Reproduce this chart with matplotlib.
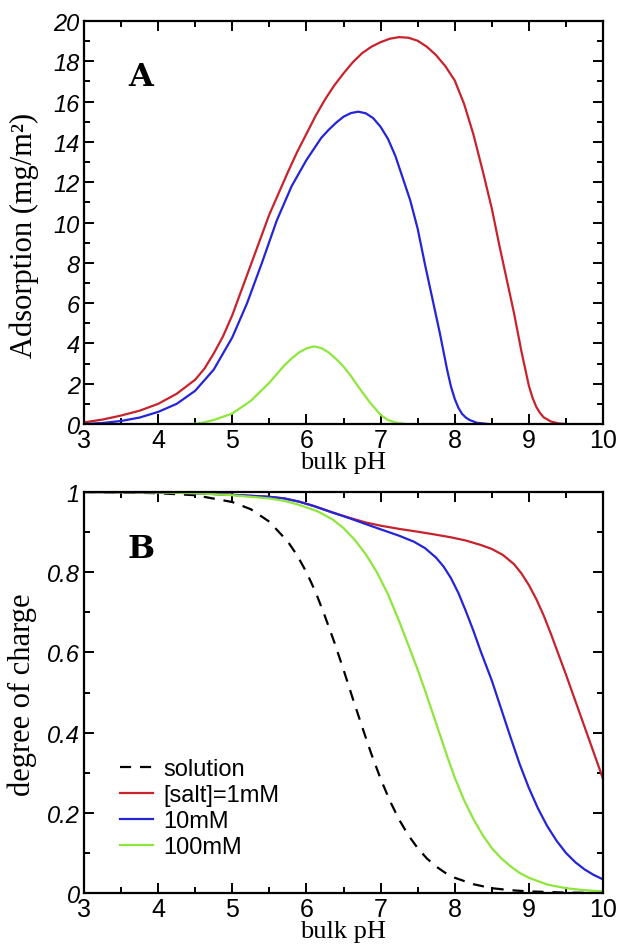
import matplotlib
matplotlib.use("Agg")
import matplotlib.pyplot as plt
from matplotlib.ticker import MultipleLocator

plt.rcParams['font.family'] = ['Liberation Sans', 'DejaVu Sans']

# ---- panel A: adsorption vs bulk pH ----
ph_1mM = [3.0, 3.25, 3.5, 3.75, 4.0, 4.25, 4.5, 4.625, 4.75, 4.875, 5.0, 5.25, 5.5, 5.75,
          5.875, 6.0, 6.125, 6.25, 6.375, 6.5, 6.625, 6.75, 6.875, 7.0, 7.125, 7.25, 7.375,
          7.5, 7.625, 7.75, 7.875, 8.0, 8.125, 8.25, 8.375, 8.5, 8.6, 8.7, 8.8, 8.9,
          9.0, 9.05, 9.1, 9.15, 9.2, 9.3, 9.4, 9.5]
ads_1mM = [0.08, 0.22, 0.42, 0.66, 1.0, 1.5, 2.2, 2.75, 3.5, 4.35, 5.4, 7.9, 10.4, 12.5,
           13.5, 14.4, 15.3, 16.1, 16.8, 17.4, 17.95, 18.4, 18.72, 18.95, 19.12, 19.2, 19.17,
           19.02, 18.72, 18.3, 17.75, 17.05, 15.9, 14.4, 12.6, 10.7, 8.9, 7.2, 5.5, 3.6,
           1.9, 1.3, 0.85, 0.55, 0.33, 0.12, 0.03, 0.0]

ph_10mM = [3.0, 3.25, 3.5, 3.75, 4.0, 4.25, 4.5, 4.75, 5.0, 5.2, 5.4, 5.6, 5.8, 6.0,
           6.2, 6.3, 6.4, 6.5, 6.6, 6.7, 6.8, 6.9, 7.0, 7.1, 7.2, 7.3, 7.4, 7.5, 7.6,
           7.7, 7.8, 7.9, 7.95, 8.0, 8.05, 8.1, 8.15, 8.2, 8.3, 8.45]
ads_10mM = [0.0, 0.05, 0.15, 0.32, 0.6, 1.0, 1.65, 2.7, 4.3, 6.0, 8.0, 10.1, 11.8, 13.1,
            14.2, 14.6, 14.95, 15.25, 15.43, 15.5, 15.42, 15.18, 14.75, 14.15, 13.3, 12.2,
            11.1, 9.7, 7.9, 6.2, 4.5, 2.65, 1.85, 1.25, 0.8, 0.5, 0.32, 0.2, 0.06, 0.0]

ph_100mM = [4.45, 4.6, 4.75, 5.0, 5.25, 5.5, 5.7, 5.8, 5.9, 6.0, 6.1, 6.2, 6.3, 6.4,
            6.5, 6.6, 6.7, 6.85, 7.0, 7.1, 7.2, 7.35]
ads_100mM = [0.0, 0.06, 0.2, 0.52, 1.15, 2.05, 2.9, 3.25, 3.55, 3.75, 3.85, 3.77, 3.55, 3.23,
             2.85, 2.38, 1.85, 1.1, 0.45, 0.2, 0.07, 0.0]

# ---- panel B: degree of charge vs bulk pH ----
ph_sol = [3.0, 3.5, 4.0, 4.5, 5.0, 5.25, 5.5, 5.75, 5.875, 6.0, 6.125, 6.25, 6.375,
          6.5, 6.625, 6.75, 6.875, 7.0, 7.125, 7.25, 7.375, 7.5, 7.625, 7.75, 7.875,
          8.0, 8.25, 8.5, 8.75, 9.0, 9.5, 10.0]
chg_sol = [1.0, 0.999, 0.997, 0.992, 0.975, 0.957, 0.926, 0.876, 0.842, 0.80, 0.75, 0.69, 0.626,
           0.557, 0.485, 0.415, 0.347, 0.285, 0.23, 0.183, 0.144, 0.112, 0.086, 0.066, 0.05,
           0.038, 0.022, 0.012, 0.007, 0.004, 0.001, 0.0]

ph_b1 = [3.0, 4.0, 4.5, 5.0, 5.5, 5.7, 5.9, 6.1, 6.35, 6.575, 6.8, 7.0, 7.25, 7.5,
         7.7, 7.95, 8.15, 8.35, 8.5, 8.65, 8.8, 8.9, 9.0, 9.1, 9.2, 9.3, 9.4, 9.5,
         9.625, 9.75, 9.875, 10.0]
chg_1mM = [1.0, 0.999, 0.997, 0.993, 0.988, 0.984, 0.976, 0.965, 0.949, 0.936, 0.924, 0.916, 0.908, 0.901,
           0.895, 0.887, 0.879, 0.868, 0.858, 0.843, 0.82, 0.797, 0.768, 0.733, 0.692, 0.645, 0.595, 0.545,
           0.48, 0.415, 0.35, 0.285]

ph_b10 = [3.0, 4.0, 4.5, 5.0, 5.5, 5.7, 5.9, 6.1, 6.35, 6.575, 6.8, 7.0, 7.25, 7.45,
          7.6, 7.75, 7.85, 7.95, 8.05, 8.15, 8.25, 8.35, 8.5, 8.625, 8.75, 8.875, 9.0,
          9.125, 9.25, 9.375, 9.5, 9.625, 9.75, 9.875, 10.0]
chg_10mM = [1.0, 0.999, 0.997, 0.993, 0.988, 0.984, 0.976, 0.965, 0.949, 0.935, 0.920, 0.907, 0.891, 0.876,
            0.86, 0.836, 0.814, 0.785, 0.748, 0.703, 0.655, 0.603, 0.53, 0.46, 0.39, 0.322, 0.262,
            0.21, 0.166, 0.13, 0.10, 0.077, 0.059, 0.045, 0.034]

ph_b100 = [3.0, 4.0, 4.5, 5.0, 5.5, 5.7, 5.9, 6.15, 6.35, 6.5, 6.65, 6.8, 6.95, 7.1,
           7.25, 7.4, 7.5, 7.6, 7.7, 7.8, 7.9, 8.0, 8.125, 8.25, 8.375, 8.5, 8.625,
           8.75, 8.875, 9.0, 9.25, 9.5, 9.75, 10.0]
chg_100mM = [1.0, 0.999, 0.997, 0.992, 0.984, 0.978, 0.968, 0.952, 0.932, 0.91, 0.881, 0.845, 0.80, 0.745,
             0.678, 0.606, 0.557, 0.505, 0.45, 0.395, 0.34, 0.288, 0.232, 0.185, 0.145, 0.112, 0.087,
             0.067, 0.05, 0.038, 0.021, 0.012, 0.007, 0.004]

legend_labels = ['solution', '[salt]=1mM', '10mM', '100mM']
ticks_a = [0, 2, 4, 6, 8, 10, 12, 14, 16, 18, 20]
ticks_b = [0, 0.2, 0.4, 0.6, 0.8, 1]
ticklabels_b = ['0', '0.2', '0.4', '0.6', '0.8', '1']
xticks = [3, 4, 5, 6, 7, 8, 9, 10]

RED = '#c8222c'
BLUE = '#2424d8'
GREEN = '#8ee63c'

fig = plt.figure(figsize=(6.19, 9.45), dpi=100)
ax1 = fig.add_axes([84 / 619, 1 - 425 / 945, 519 / 619, 403 / 945])
ax2 = fig.add_axes([84 / 619, 1 - 894 / 945, 519 / 619, 401 / 945])

lw = 1.6
ax1.plot(ph_1mM, ads_1mM, color=RED, lw=lw)
ax1.plot(ph_10mM, ads_10mM, color=BLUE, lw=lw)
ax1.plot(ph_100mM, ads_100mM, color=GREEN, lw=lw)

ax2.plot(ph_sol, chg_sol, color='black', lw=lw, dashes=(5, 4), label=legend_labels[0])
ax2.plot(ph_b1, chg_1mM, color=RED, lw=lw, label=legend_labels[1])
ax2.plot(ph_b10, chg_10mM, color=BLUE, lw=lw, label=legend_labels[2])
ax2.plot(ph_b100, chg_100mM, color=GREEN, lw=lw, label=legend_labels[3])

for ax in (ax1, ax2):
    ax.set_xlim(3, 10)
    ax.set_xticks(xticks)
    ax.set_xticklabels([str(t) for t in xticks], fontsize=18)
    ax.xaxis.set_minor_locator(MultipleLocator(0.5))
    ax.tick_params(which='both', direction='in', top=True, right=True, width=1.4)
    ax.tick_params(which='major', length=7.5)
    ax.tick_params(which='minor', length=4.5)
    ax.tick_params(axis='x', pad=3)
    ax.tick_params(axis='y', pad=3)
    for s in ax.spines.values():
        s.set_linewidth(1.6)
    ax.set_xlabel('bulk pH', family='Liberation Serif', fontsize=19, labelpad=-1)

ax1.set_ylim(0, 20)
ax1.set_yticks(ticks_a)
ax1.set_yticklabels([str(t) for t in ticks_a], fontsize=17, fontstyle='italic')
ax1.yaxis.set_minor_locator(MultipleLocator(1))
ax1.set_ylabel('Adsorption (mg/m²)', family='Liberation Serif', fontsize=22)
ax1.yaxis.set_label_coords(-0.086, 0.47)
ax1.text(0.11, 0.862, 'A', transform=ax1.transAxes, family='DejaVu Serif',
         fontweight='bold', fontsize=23, ha='center', va='center')

ax2.set_ylim(0, 1)
ax2.set_yticks(ticks_b)
ax2.set_yticklabels(ticklabels_b, fontsize=17, fontstyle='italic')
ax2.yaxis.set_minor_locator(MultipleLocator(0.1))
ax2.set_ylabel('degree of charge', family='Liberation Serif', fontsize=22)
ax2.yaxis.set_label_coords(-0.09, 0.496)
ax2.text(0.11, 0.858, 'B', transform=ax2.transAxes, family='DejaVu Serif',
         fontweight='bold', fontsize=23, ha='center', va='center')

ax2.legend(loc='lower left', bbox_to_anchor=(0.069, 0.087), frameon=False,
           fontsize=17, handlelength=1.4, handletextpad=0.45, labelspacing=0.17,
           borderpad=0, borderaxespad=0)

fig.savefig('out.png', dpi=100, facecolor='white')
